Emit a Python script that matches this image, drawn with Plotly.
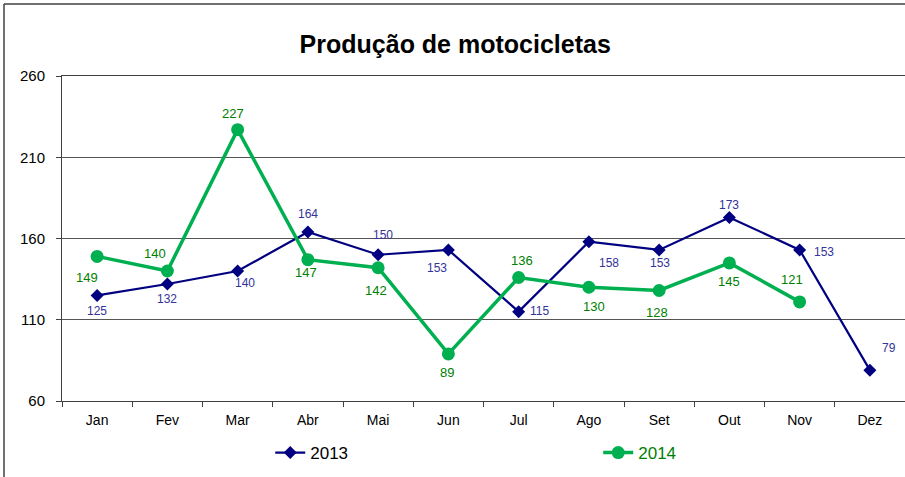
import plotly.graph_objects as go

months = ["Jan", "Fev", "Mar", "Abr", "Mai", "Jun", "Jul", "Ago", "Set", "Out", "Nov", "Dez"]
v2013 = [125, 132, 140, 164, 150, 153, 115, 158, 153, 173, 153, 79]
v2014 = [149, 140, 227, 147, 142, 89, 136, 130, 128, 145, 121]
y_ticks = [60, 110, 160, 210, 260]

# label offsets (xshift, yshift) in pixels
off2013 = [(0, -16), (0, -15), (7, -12), (0, 18), (5, 20), (-11, -18),
           (21, 1), (20, -21), (1, -13), (0, 12), (24, -2), (19, 22)]
off2014 = [(-10, -21), (-12, 18), (-5, 16), (-2, -13), (-2, -23), (-1, -19),
           (3, 17), (5, -19), (-2, -22), (0, -19), (-8, 22)]

C13 = "#000080"
C13L = "#333399"
C14 = "#00B050"
C14L = "#008000"
FONT = "Liberation Sans, Arial, sans-serif"

fig = go.Figure()
fig.add_trace(go.Scatter(
    x=months, y=v2013, name="2013", mode="lines+markers",
    line=dict(color=C13, width=2.2),
    marker=dict(symbol="diamond", size=10, color=C13),
))
fig.add_trace(go.Scatter(
    x=months[:len(v2014)], y=v2014, name="<span style='color:#008000'>2014</span>",
    mode="lines+markers",
    line=dict(color=C14, width=3.5),
    marker=dict(symbol="circle", size=13, color=C14),
))

annotations = []
for m, v, (dx, dy) in zip(months, v2013, off2013):
    annotations.append(dict(x=m, y=v, text=str(v), showarrow=False, xshift=dx, yshift=dy,
                            font=dict(family=FONT, size=12, color=C13L)))
for m, v, (dx, dy) in zip(months, v2014, off2014):
    annotations.append(dict(x=m, y=v, text=str(v), showarrow=False, xshift=dx, yshift=dy,
                            font=dict(family=FONT, size=13, color=C14L)))

fig.update_layout(
    width=905, height=477,
    margin=dict(l=62, r=0, t=76, b=76, autoexpand=False),
    paper_bgcolor="white", plot_bgcolor="white",
    font=dict(family=FONT, color="black"),
    title=dict(text="<b>Produção de motocicletas</b>", x=0.503, xanchor="center",
               y=1 - 44 / 477, yanchor="middle",
               font=dict(size=25, color="black")),
    annotations=annotations,
    showlegend=True,
    legend=dict(orientation="h", x=0.247, xanchor="left", y=-0.16, yanchor="middle",
                entrywidth=283, entrywidthmode="pixels",
                font=dict(size=17, color="black"), bgcolor="rgba(0,0,0,0)"),
    xaxis=dict(type="category", range=[-0.5, 11.5], showgrid=False,
               showline=True, mirror=True, linecolor="#404040", linewidth=1,
               ticks="outside", tickson="boundaries", ticklen=5, tickcolor="#404040",
               ticklabelstandoff=6,
               tickfont=dict(size=14, color="black"), fixedrange=True),
    yaxis=dict(range=[60, 260], tickvals=y_ticks, showgrid=True,
               gridcolor="#555555", gridwidth=1,
               showline=True, linecolor="#404040", linewidth=1,
               ticks="outside", ticklen=5, tickcolor="#404040",
               ticklabelstandoff=8,
               tickfont=dict(size=15, color="black"), zeroline=False, fixedrange=True),
    shapes=[
        dict(type="line", xref="paper", yref="paper", x0=-58 / 843, x1=1.01,
             y0=1 + 72 / 325, y1=1 + 72 / 325, line=dict(color="#404040", width=1.5)),
        dict(type="line", xref="paper", yref="paper", x0=-58 / 843, x1=-58 / 843,
             y0=1 + 72 / 325, y1=-0.3, line=dict(color="#404040", width=1.5)),
    ],
)

fig.write_html("out.html", config={"displayModeBar": False},
               post_script="document.body.style.margin='0';document.body.style.overflow='hidden';")
